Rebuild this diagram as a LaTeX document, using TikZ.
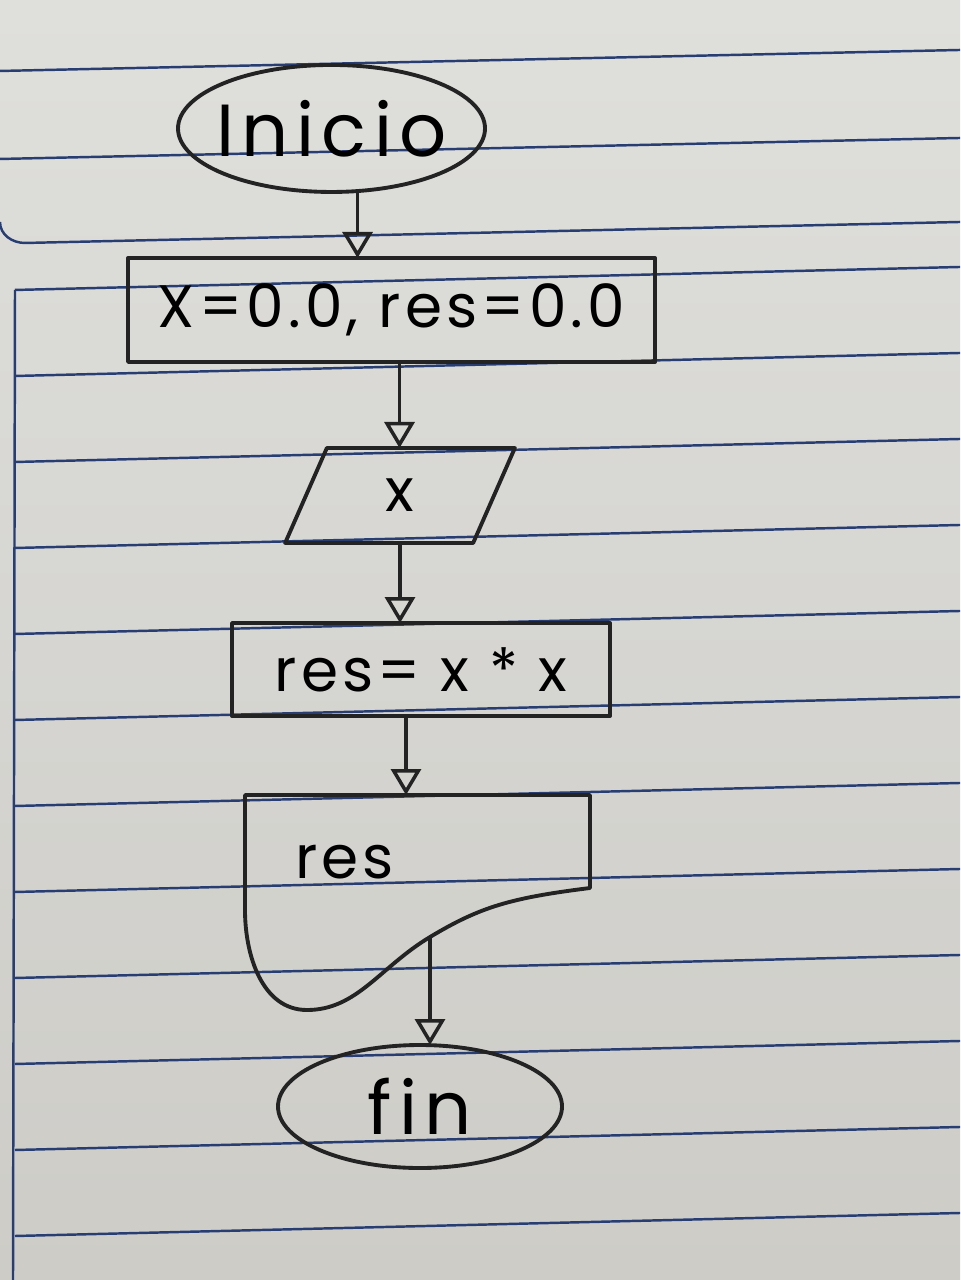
\documentclass[tikz,border=0pt]{standalone}
\usepackage{fontspec}
\setmainfont{Poppins}[LetterSpace=7]
\usepackage{tikz}
\usetikzlibrary{arrows.meta,positioning,shapes.geometric}
\definecolor{paperhi}{RGB}{223,223,220}
\definecolor{paperlo}{RGB}{205,204,199}
\definecolor{rule}{RGB}{40,62,115}
\definecolor{ink}{RGB}{35,35,35}

\begin{document}
\begin{tikzpicture}[
  font=\fontsize{17}{20}\selectfont, node distance=8mm,
  pen/.style={draw=ink, line width=1.1pt, line join=round},
  term/.style={pen, ellipse, inner sep=0pt, inner xsep=-1.5mm, outer sep=0pt,
               font=\fontsize{21}{24}\selectfont\addfontfeature{LetterSpace=10}},
  procbox/.style={pen, rectangle, inner sep=0pt, outer sep=0pt},
  iobox/.style={pen, trapezium, trapezium left angle=76, trapezium right angle=104,
                trapezium stretches=true, inner sep=0pt, outer sep=0pt},
  flow/.style={pen, line width=1pt, -{Triangle[open, length=2.6mm, width=3mm]}},
  ruling/.style={draw=rule, line width=0.7pt}]
\useasboundingbox (0,0) rectangle (9.6,12.8);
% paper
\shade[top color=paperhi, bottom color=paperlo] (0,0) rectangle (9.6,12.8);
\foreach \i in {0,...,11}
  \draw[ruling] (0.15,{9.9-0.86*\i}) -- (9.6,{10.13-0.86*\i});
\draw[ruling] (0.13,0) -- (0.15,9.9);
\foreach \y/\z in {12.09/12.3, 11.21/11.42}
  \draw[ruling] (0,\y) -- (9.6,\z);
\draw[ruling] (0,10.58) to[out=-90, in=180] (0.25,10.37) -- (9.6,10.58);
% flowchart
\node[term, minimum width=3.07cm, minimum height=1.27cm] (ini) at (3.315,11.515) {Inicio};
\node[procbox, below=6.6mm of ini, xshift=6mm, minimum width=5.27cm,
      minimum height=1.04cm] (init) {X=0.0, res=0.0};
\node[iobox, below=8.6mm of init, xshift=0.85mm, minimum width=2.3cm,
      minimum height=0.95cm] (rd) {x};
\node[procbox, below=8mm of rd, xshift=2.1mm, minimum width=3.78cm,
      minimum height=0.93cm] (calc) {res= x * x};
\node[below=7.9mm of calc, xshift=-0.35mm, minimum width=3.45cm,
      inner xsep=5mm, inner ysep=0pt, outer sep=0pt, text width=2.45cm,
      text height=8.3mm, text depth=1mm, align=left] (outp) {res};
\draw[pen] (outp.north west) -- (outp.north east) -- (outp.south east)
  .. controls +(-0.8,-0.1) and +(0.5,0.3) .. ++(-1.6,-0.49) coordinate (docb)
  .. controls +(-0.5,-0.3) and +(0.5,0) .. ++(-1.23,-0.73)
  .. controls +(-0.45,0) and +(0,-0.45) .. ++(-0.62,1.0) -- cycle;
\node[term, below=15.7mm of outp, xshift=0.25mm, minimum width=2.84cm,
      minimum height=1.23cm] (fin) {fin};
% arrows
\draw[flow] ([xshift=2.6mm]ini.south) -- ([xshift=2.6mm]ini.south |- init.north);
\draw[flow] ([xshift=0.8mm]init.south) -- ([xshift=0.8mm]init.south |- rd.north);
\draw[flow] (rd.south) -- (rd.south |- calc.north);
\draw[flow] ([xshift=-1.5mm]calc.south) -- ([xshift=-1.5mm]calc.south |- outp.north);
\draw[flow] (docb) -- (docb |- fin.north);
\end{tikzpicture}
\end{document}
